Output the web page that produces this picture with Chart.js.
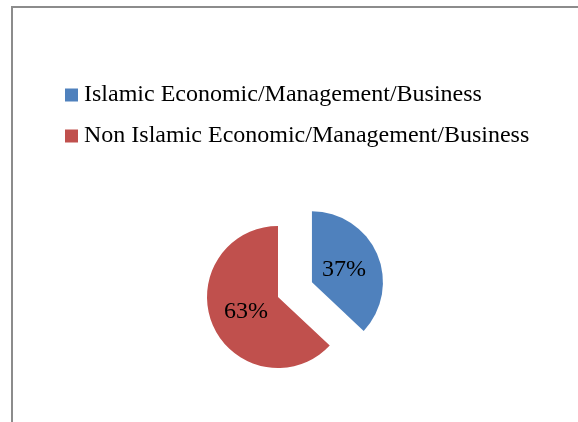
<!DOCTYPE html>
<html>
<head>
<meta charset="utf-8">
<script src="https://cdn.jsdelivr.net/npm/chart.js@4/dist/chart.umd.min.js"></script>
<style>
  html, body { margin: 0; padding: 0; width: 578px; height: 422px; overflow: hidden; background: #fff; }
  #frame { position: absolute; left: 11px; top: 6px; width: 620px; height: 460px;
           border-left: 2px solid #8c8c8c; border-top: 2px solid #8c8c8c; box-sizing: border-box; }
  #wrap { position: absolute; left: 0; top: 0; width: 578px; height: 440px; }
</style>
</head>
<body>
<div id="frame"></div>
<div id="wrap"><canvas id="c" width="578" height="440"></canvas></div>
<script>
const categories = ["Islamic Economic/Management/Business", "Non Islamic Economic/Management/Business"];
const shares = [37, 63];
const sliceColors = ["#4F81BD", "#C0504D"];
const sliceExplode = [37, 0];   // pixels the slice is pulled out

const serif = "'Liberation Serif', 'Times New Roman', serif";
const PIE_R = 71;

// Chart.js translates an arc by offset/4 and also enlarges/trims it slightly; keep exploded slice the same shape.
const keepShape = {
  id: 'keepShape',
  afterDatasetsUpdate(chart) {
    chart.getDatasetMeta(0).data.forEach(arc => {
      const off = (arc.options.offset || 0) / 4;
      const fix = 1 - Math.sin(Math.min(Math.PI, arc.circumference || 0));
      const o = off * fix;
      arc.outerRadius = PIE_R - o;
      if (o > 0) {
        const d = o / (2 * Math.PI * PIE_R);
        arc.startAngle -= d;
        arc.endAngle += d;
      }
    });
  }
};

const pieLabels = {
  id: 'pieLabels',
  afterDatasetsDraw(chart) {
    const ctx = chart.ctx;
    const meta = chart.getDatasetMeta(0);
    const data = chart.data.datasets[0].data;
    const total = data.reduce((a, b) => a + b, 0);
    ctx.save();
    ctx.font = "24px " + serif;
    ctx.fillStyle = "#000";
    ctx.textAlign = "center";
    ctx.textBaseline = "middle";
    meta.data.forEach((arc, i) => {
      const p = arc.getProps(['x', 'y', 'startAngle', 'endAngle'], true);
      const mid = (p.startAngle + p.endAngle) / 2;
      const off = (arc.options.offset || 0) / 4;
      const d = off + PIE_R * 0.49;
      ctx.fillText(Math.round(data[i] / total * 100) + "%", p.x + Math.cos(mid) * d, p.y + Math.sin(mid) * d + 1);
    });
    ctx.restore();
  }
};

new Chart(document.getElementById('c'), {
  type: 'pie',
  data: {
    labels: categories,
    datasets: [{
      data: shares,
      backgroundColor: sliceColors,
      borderWidth: 0,
      offset: sliceExplode.map(v => v * 4)
    }]
  },
  options: {
    responsive: false,
    animation: false,
    radius: PIE_R,
    layout: { padding: { left: 54, right: 0, top: 66, bottom: 4 } },
    plugins: {
      tooltip: { enabled: false },
      title: {
        display: true,
        position: 'right',
        fullSize: false,
        text: '',
        padding: 0,
        font: { size: 1, lineHeight: '76px' }
      },
      legend: {
        position: 'top',
        align: 'start',
        labels: {
          font: { family: serif, size: 24 },
          color: '#000',
          boxWidth: 1,
          boxHeight: 1,
          padding: 17,
          generateLabels(chart) {
            const items = Chart.controllers.pie.overrides.plugins.legend.labels.generateLabels(chart);
            return items.map(it => Object.assign(it, { lineWidth: 12, strokeStyle: it.fillStyle, lineJoin: 'miter' }));
          }
        }
      }
    }
  },
  plugins: [keepShape, pieLabels]
});
</script>
</body>
</html>
